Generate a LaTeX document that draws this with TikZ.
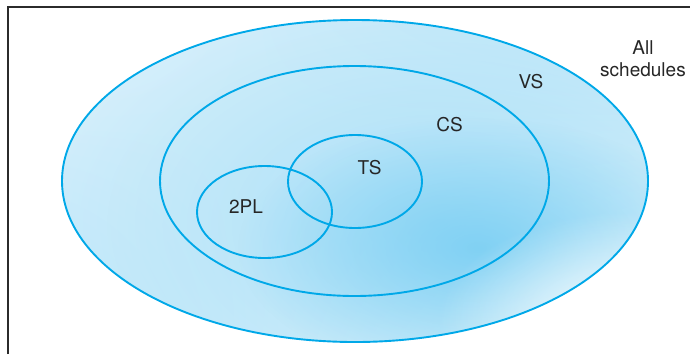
\documentclass[tikz,border=0pt]{standalone}
\usepackage{fontspec}
\setmainfont{TeX Gyre Heros}
\usetikzlibrary{positioning, fadings, shadings}
\definecolor{setline}{HTML}{00A8E8}
\definecolor{setpale}{HTML}{E0F3FC}
\definecolor{setmid}{HTML}{C4E9FA}
\definecolor{setdeep}{HTML}{78CEF3}
\definecolor{framegray}{HTML}{2B2B2B}
\tikzfading[name=spotfade, inner color=transparent!0, outer color=transparent!100]

\begin{document}
\begin{tikzpicture}[
  x=1pt, y=-1pt,
  font=\fontsize{19}{22}\selectfont,
  set/.style={draw=setline, line width=1.9pt},
  lbl/.style={anchor=base, inner sep=0pt, text=black!85}
]
\useasboundingbox (0,0) rectangle (690,354);
\draw[framegray, line width=2pt] (8,354) -- (8,7) -- (690,7);

% shaded background inside the outer set
\begin{scope}
  \clip (355,181) ellipse (293 and 161);
  \shade[upper left=setpale, upper right=setmid, lower left=setmid, lower right=white]
    (62,20) rectangle (648,342);
  \fill[setdeep, opacity=0.5, path fading=spotfade] (440,225) ellipse (440 and 270);
  \fill[setdeep, opacity=0.85, path fading=spotfade] (478,248) ellipse (240 and 130);
  \fill[white, opacity=0.95, path fading=spotfade] (628,322) ellipse (190 and 110);
\end{scope}

% the nested sets
\draw[set] (355,181) ellipse (293 and 161);
\draw[set] (354.5,181) ellipse (194.5 and 115);
\draw[set] (355,181.5) ellipse (67 and 46.5);
\draw[set] (264.5,212) ellipse (67.5 and 46);

\node[lbl] (all) at (643,54) {All};
\node[lbl] (sched) at (643,76) {schedules};
\node[lbl] (vs) at (531,88) {VS};
\node[lbl] (cs) at (449.5,131) {CS};
\node[lbl] (ts) at (369.5,174) {TS};
\node[lbl] (tpl) at (246,213) {2PL};
\end{tikzpicture}
\end{document}
